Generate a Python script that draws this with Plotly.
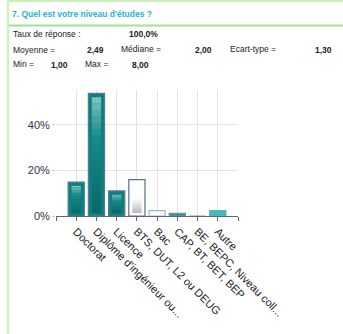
import plotly.graph_objects as go

# ---- data ----
categories = ["Doctorat", "Diplôme d'ingénieur ou...", "Licence", "BTS, DUT, L2 ou DEUG",
              "Bac", "CAP, BT, BET, BEP", "BE, BEPC, Niveau coll...", "Autre"]
values = [14.9, 53.8, 11.0, 16.0, 2.4, 1.2, 0.0, 2.4]
bar_colors = ["#0c8080", "#0c8080", "#0c8080", "#ffffff", "#ffffff", "#3b90a0", "#2ec4c4", "#2ec4c4"]
line_colors = ["#587c8e", "#587c8e", "#587c8e", "#55708e", "#a3b4ca", "#6a8fa0", "#8aa0a8", "#7fa0a8"]
gradient_kind = ["teal", "teal", "teal", "white", None, None, None, None]
y_tick_vals = [0, 20, 40]
y_tick_text = ["0%", "20%", "40%"]

title_text = "7. Quel est votre niveau d'études ?"
stats_labels = ["Taux de réponse :", "Moyenne =", "Médiane =", "Ecart-type =", "Min =", "Max ="]
stats_values = ["100,0%", "2,49", "2,00", "1,30", "1,00", "8,00"]

# ---- geometry helpers ----
W, H = 343, 334
L, R, T, B = 56, 105, 90, 118
PW, PH = W - L - R, H - T - B


def px(xp):
    return (xp - L) / PW


def py(yp):
    return (H - B - yp) / PH


def hex2rgb(h):
    h = h.lstrip("#")
    return tuple(int(h[i:i + 2], 16) for i in (0, 2, 4))


def interp(stops, t):
    for (t0, c0), (t1, c1) in zip(stops[:-1], stops[1:]):
        if t0 <= t <= t1:
            f = 0 if t1 == t0 else (t - t0) / (t1 - t0)
            a, b = hex2rgb(c0), hex2rgb(c1)
            return "rgb(%d,%d,%d)" % tuple(round(a[i] + (b[i] - a[i]) * f) for i in range(3))
    return stops[-1][1]


gradients = {
    "teal": [(0.0, "#7ec3c0"), (0.35, "#168b89"), (1.0, "#086868")],
    "white": [(0.0, "#ffffff"), (0.5, "#ffffff"), (1.0, "#b2b2b2")],
}

xs = list(range(1, len(categories) + 1))

fig = go.Figure()
fig.add_trace(go.Bar(
    x=xs, y=values, width=0.8,
    marker=dict(color=bar_colors, line=dict(color=line_colors, width=1.2)),
    hoverinfo="skip", showlegend=False,
))

# inner gradient overlay built from the same values
N = 18
top_off, bot_off = 1.7, 1.3
idx = [i for i, g in enumerate(gradient_kind) if g]
for k in range(N):
    ys, bases, cols, xx = [], [], [], []
    for i in idx:
        v = values[i]
        h = (v - top_off - bot_off) / N
        ys.append(h * 1.02)
        bases.append(v - top_off - (k + 1) * h)
        cols.append(interp(gradients[gradient_kind[i]], (k + 0.5) / N))
        xx.append(xs[i])
    fig.add_trace(go.Bar(x=xx, y=ys, base=bases, width=0.46,
                         marker=dict(color=cols, line=dict(width=0)),
                         hoverinfo="skip", showlegend=False))

fig.update_layout(
    width=W, height=H,
    margin=dict(l=L, r=R, t=T, b=B, pad=0),
    paper_bgcolor="white", plot_bgcolor="white",
    barmode="overlay",
    font=dict(family="Liberation Sans, Arial, sans-serif", color="#222"),
    xaxis=dict(
        range=[0, 9], tickmode="array",
        tickvals=list(range(0, 10)),
        ticktext=[""] + categories + [""],
        tickangle=45, tickfont=dict(size=11, color="#222"),
        showgrid=True, gridcolor="#e2e2e2", gridwidth=1,
        showline=True, linecolor="#666", linewidth=1,
        ticks="outside", ticklen=4, tickcolor="#666",
        zeroline=False, fixedrange=True,
    ),
    yaxis=dict(
        range=[0, 55.3], tickmode="array",
        tickvals=y_tick_vals, ticktext=y_tick_text,
        tickfont=dict(size=11, color="#333340"),
        showgrid=True, gridcolor="#e2e2e2", gridwidth=1,
        showline=False, zeroline=False,
        ticks="outside", ticklen=3, tickcolor="#cccccc",
        fixedrange=True,
    ),
    hovermode=False,
)

# ---- frame lines ----
shapes = [
    dict(type="line", xref="paper", yref="paper", x0=px(7), x1=px(343), y0=py(1), y1=py(1),
         line=dict(color="#c9efb9", width=2)),
    dict(type="line", xref="paper", yref="paper", x0=px(7), x1=px(343), y0=py(25.5), y1=py(25.5),
         line=dict(color="#a3e092", width=2)),
    dict(type="line", xref="paper", yref="paper", x0=px(8), x1=px(8), y0=py(0), y1=py(334),
         line=dict(color="#cff2bf", width=2.5)),
]
fig.update_layout(shapes=shapes)

ann = []


def txt(x, y, s, bold=False, color="#222", size=8.5):
    ann.append(dict(xref="paper", yref="paper", x=px(x), y=py(y), text=("<b>%s</b>" % s) if bold else s,
                    showarrow=False, xanchor="left", yanchor="middle",
                    font=dict(size=size, color=color, family="Liberation Sans, Arial, sans-serif")))


txt(10, 14, title_text, bold=True, color="#27b3d3", size=8.5)
txt(11, 34, stats_labels[0])
txt(127, 34, stats_values[0], bold=True)
txt(11, 50, stats_labels[1])
txt(85, 50, stats_values[1], bold=True)
txt(119, 49, stats_labels[2])
txt(193, 50, stats_values[2], bold=True)
txt(228, 49, stats_labels[3])
txt(313, 50, stats_values[3], bold=True)
txt(11, 64, stats_labels[4])
txt(49, 65, stats_values[4], bold=True)
txt(83, 64, stats_labels[5])
txt(130, 65, stats_values[5], bold=True)
fig.update_layout(annotations=ann)

fig.write_html("out.html", config=dict(displayModeBar=False, staticPlot=True),
               post_script="document.body.style.margin='0';document.body.style.overflow='hidden';")
